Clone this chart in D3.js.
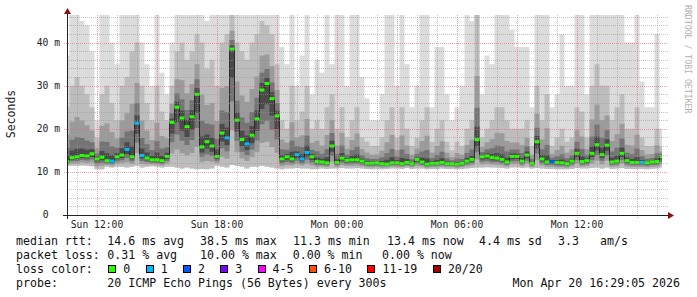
<!DOCTYPE html>
<html lang="en">
<head>
<meta charset="UTF-8">
<title>Smokeping latency</title>
<script src="https://cdn.jsdelivr.net/npm/d3@7"></script>
<style>
  body { margin: 0; background: #fff; }
  svg { display: block; font-family: "DejaVu Sans Mono", monospace; }
</style>
</head>
<body>
<svg id="chart" width="697" height="297"></svg>
<script>
// one reading every 15 minutes, starting Sun 10:30 (ms)
var median = [
  12.4, 13.3, 13.5, 13.8, 13.7, 14.2, 13.0, 13.4, 12.6, 12.5,
  13.5, 13.9, 15.2, 13.5, 21.3, 13.8, 13.2, 12.8, 12.8, 12.6,
  13.6, 21.5, 25.0, 22.5, 20.5, 22.8, 28.0, 15.8, 17.0, 16.0,
  13.6, 19.0, 17.9, 38.5, 22.0, 17.5, 16.5, 18.5, 22.3, 29.0,
  30.5, 27.0, 23.0, 13.0, 13.5, 13.0, 14.0, 13.0, 14.5, 13.5,
  12.4, 12.3, 12.1, 16.0, 12.2, 13.2, 12.7, 12.8, 12.8, 12.5,
  12.0, 12.0, 12.1, 11.9, 11.8, 12.1, 12.1, 11.9, 12.2, 11.9,
  12.9, 12.3, 11.8, 12.0, 12.0, 12.2, 11.9, 11.9, 11.8, 12.0,
  12.5, 12.9, 17.5, 13.5, 13.7, 13.3, 13.2, 12.9, 12.3, 13.6,
  13.6, 12.5, 13.9, 12.0, 17.0, 13.0, 12.3, 12.4, 12.2, 12.1,
  11.9, 12.5, 14.3, 12.4, 12.6, 14.3, 16.3, 14.0, 16.2, 12.3,
  12.5, 14.3, 12.6, 12.2, 12.2, 12.2, 12.1, 12.3, 12.4, 13.5
];
// lost pings out of 20
var lost = [
  0, 0, 0, 0, 0, 0, 0, 0, 0, 1,
  0, 0, 1, 0, 1, 1, 0, 0, 0, 0,
  0, 0, 0, 0, 0, 0, 0, 0, 0, 0,
  0, 0, 1, 0, 0, 0, 1, 0, 0, 0,
  0, 0, 0, 0, 0, 0, 1, 1, 1, 0,
  0, 0, 0, 0, 0, 0, 0, 0, 0, 0,
  0, 0, 0, 0, 0, 0, 0, 0, 0, 0,
  0, 0, 0, 0, 0, 0, 0, 0, 0, 0,
  0, 0, 0, 0, 0, 0, 0, 0, 0, 0,
  0, 0, 0, 0, 0, 0, 0, 2, 0, 0,
  0, 0, 0, 0, 0, 0, 0, 0, 0, 0,
  0, 0, 0, 0, 0, 1, 0, 0, 0, 0
];
// fastest ping
var smokeLow = [
  11.4, 11.4, 11.4, 11.5, 11.4, 11.3, 10.6, 10.6, 11.2, 11.0,
  11.2, 11.2, 11.0, 11.2, 11.4, 11.0, 11.2, 11.3, 11.2, 11.0,
  11.2, 11.2, 11.0, 10.8, 11.0, 10.8, 10.6, 10.7, 10.6, 10.8,
  11.4, 11.2, 11.0, 11.6, 11.4, 11.2, 10.8, 11.2, 11.2, 11.4,
  11.2, 11.0, 10.8, 10.6, 10.8, 10.8, 10.9, 10.8, 10.8, 10.6,
  10.7, 10.8, 10.7, 10.8, 10.8, 10.9, 10.8, 10.8, 10.9, 10.8,
  10.7, 10.6, 10.7, 10.6, 10.7, 10.8, 10.8, 10.7, 10.9, 10.7,
  10.8, 10.8, 10.6, 10.7, 10.7, 10.8, 10.7, 10.7, 10.6, 10.7,
  10.8, 10.9, 11.0, 11.0, 11.1, 11.0, 11.0, 10.9, 10.8, 11.0,
  11.1, 10.9, 11.0, 10.8, 10.9, 10.8, 10.7, 10.7, 10.6, 10.6,
  10.6, 10.7, 10.9, 10.8, 10.8, 10.9, 11.0, 10.8, 11.0, 10.7,
  10.8, 10.9, 10.7, 10.7, 10.7, 10.7, 10.6, 10.7, 10.8, 11.0
];
// upper edge of the dense part of the smoke
var smokeMid = [
  25, 30, 32, 30, 28, 25, 18, 28, 30, 26,
  22, 30, 32, 38, 40, 30, 26, 22, 30, 24,
  22, 30, 38, 40, 36, 38, 42, 40, 34, 36,
  30, 40, 42, 47, 40, 38, 36, 40, 42, 45,
  44, 42, 35, 22, 20, 30, 22, 24, 30, 20,
  22, 20, 25, 28, 20, 25, 18, 22, 25, 18,
  17, 16, 16, 18, 22, 25, 18, 25, 20, 16,
  18, 22, 25, 17, 20, 22, 17, 15, 17, 16,
  20, 22, 47, 18, 20, 22, 25, 25, 22, 20,
  20, 20, 22, 16, 30, 22, 28, 16, 18, 20,
  17, 18, 25, 24, 18, 30, 35, 30, 30, 22,
  25, 28, 20, 20, 25, 18, 16, 16, 20, 16
];
// slowest ping
var smokeHigh = [
  37, 47, 47, 45, 44, 38, 22, 47, 47, 40,
  35, 47, 47, 47, 47, 40, 35, 30, 47, 33,
  28, 40, 47, 47, 47, 47, 47, 47, 45, 47,
  47, 47, 47, 47, 47, 47, 47, 47, 47, 47,
  47, 47, 47, 39, 35, 47, 30, 37, 47, 28,
  36, 33, 47, 35, 47, 47, 30, 47, 47, 32,
  27, 22, 22, 28, 47, 47, 30, 47, 35, 25,
  30, 47, 47, 25, 39, 39, 28, 22, 25, 30,
  47, 45, 47, 28, 37, 35, 47, 47, 47, 43,
  39, 39, 39, 25, 47, 47, 47, 25, 28, 42,
  30, 30, 47, 47, 28, 47, 47, 47, 47, 47,
  47, 47, 40, 40, 47, 31, 25, 25, 42, 20
];

var yTicks = [0, 10, 20, 30, 40];
var lossLabels = ["0", "1", "2", "3", "4-5", "6-10", "11-19", "20/20"];
var lossColors = ["#26ff00", "#00b8ff", "#0059ff", "#7e00ff", "#ff00ff", "#ff5500", "#ff0000", "#a10000"];
var rttStats = ["14.6 ms avg", "38.5 ms max", "11.3 ms min", "13.4 ms now", "4.4 ms sd", "3.3", "am/s"];
var lossStats = ["0.31 % avg", "10.00 % max", "0.00 % min", "0.00 % now"];
var probeText = "20 ICMP Echo Pings (56 Bytes) every 300s";
var stamp = "Mon Apr 20 16:29:05 2026";

var start = new Date(2026, 3, 19, 10, 30),
    end = new Date(2026, 3, 20, 16, 30);

var data = median.map(function(m, i) {
  return {
    t: d3.timeMinute.offset(start, 15 * i),
    med: m, loss: lost[i],
    lo: smokeLow[i], mid: smokeMid[i], hi: smokeHigh[i]
  };
});

var plotL = 67, plotR = 667, plotT = 15, plotB = 215;

var x = d3.scaleTime().domain([start, end]).range([plotL, plotR]);
var y = d3.scaleLinear().domain([0, 46.4]).range([plotB, plotT]);

var svg = d3.select("#chart");

svg.append("clipPath").attr("id", "plot")
  .append("rect").attr("x", plotL).attr("y", plotT)
  .attr("width", plotR - plotL).attr("height", plotB - plotT);

var g = svg.append("g").attr("clip-path", "url(#plot)");

// smoke, from light outer band to dark inner band
function band(lower, upper, color) {
  var area = d3.area()
    .curve(d3.curveStep)
    .x(function(d) { return x(d.t); })
    .y0(function(d) { return y(lower(d)); })
    .y1(function(d) { return y(upper(d)); });
  g.append("path").datum(data).attr("d", area).attr("fill", color);
}
band(function(d) { return d.lo; }, function(d) { return d.hi; }, "#dcdcdc");
band(function(d) { return d.lo; }, function(d) { return d.mid; }, "#bdbdbd");
band(function(d) { return d.lo + (d.med - d.lo) * 0.3; }, function(d) { return d.med + (d.mid - d.med) * 0.5; }, "#9b9b9b");
band(function(d) { return d.lo + (d.med - d.lo) * 0.55; }, function(d) { return d.med + (d.mid - d.med) * 0.25; }, "#747474");
band(function(d) { return d.lo + (d.med - d.lo) * 0.75; }, function(d) { return d.med + (d.mid - d.med) * 0.1; }, "#4a4a4a");

// thin dark step joining the median marks
g.append("path").datum(data)
  .attr("d", d3.line().curve(d3.curveStep).x(function(d) { return x(d.t); }).y(function(d) { return y(d.med); }))
  .attr("fill", "none").attr("stroke", "#2a2a2a").attr("stroke-width", 1);

function lossColor(n) {
  if (n <= 3) return lossColors[n];
  if (n <= 5) return lossColors[4];
  if (n <= 10) return lossColors[5];
  if (n <= 19) return lossColors[6];
  return lossColors[7];
}

var step = x(data[1].t) - x(data[0].t);
g.selectAll(".med").data(data).enter().append("rect")
  .attr("class", "med")
  .attr("x", function(d, i) { return i == 0 ? x(d.t) : x(d.t) - step / 2; })
  .attr("width", function(d, i) { return (i == 0 || i == data.length - 1) ? step / 2 : step; })
  .attr("y", function(d) { return y(d.med) - 1.5; })
  .attr("height", 3)
  .attr("fill", function(d) { return lossColor(d.loss); });

// grid on top of the smoke
var grid = svg.append("g").attr("shape-rendering", "crispEdges");
var minorGrid = "rgba(150,150,150,0.55)", majorGrid = "rgba(230,100,100,0.6)";

d3.range(2, 47, 2).filter(function(v) { return v % 10; }).forEach(function(v) {
  grid.append("line").attr("x1", plotL).attr("x2", plotR + 1)
    .attr("y1", Math.round(y(v)) + 0.5).attr("y2", Math.round(y(v)) + 0.5)
    .attr("stroke", minorGrid).attr("stroke-dasharray", "1,1");
});
x.ticks(d3.timeHour.every(1)).filter(function(t) { return t.getHours() % 3; }).forEach(function(t) {
  var xx = Math.round(x(t)) + 0.5;
  grid.append("line").attr("x1", xx).attr("x2", xx).attr("y1", plotT).attr("y2", plotB + 2)
    .attr("stroke", minorGrid).attr("stroke-dasharray", "1,1");
});
yTicks.slice(1).forEach(function(v) {
  grid.append("line").attr("x1", plotL - 3).attr("x2", plotR + 1)
    .attr("y1", Math.round(y(v)) + 0.5).attr("y2", Math.round(y(v)) + 0.5)
    .attr("stroke", majorGrid).attr("stroke-dasharray", "1,1");
});
x.ticks(d3.timeHour.every(3)).forEach(function(t) {
  var xx = Math.round(x(t)) + 0.5;
  grid.append("line").attr("x1", xx).attr("x2", xx).attr("y1", plotT).attr("y2", plotB + 3)
    .attr("stroke", majorGrid).attr("stroke-dasharray", "1,1");
});

// axes with arrows
var axis = svg.append("g").attr("shape-rendering", "crispEdges");
axis.append("line").attr("x1", plotL - 4).attr("x2", plotR + 4)
  .attr("y1", plotB + 0.5).attr("y2", plotB + 0.5).attr("stroke", "#222");
axis.append("line").attr("x1", plotL + 0.5).attr("x2", plotL + 0.5)
  .attr("y1", plotB + 4).attr("y2", plotT - 4).attr("stroke", "#222");
svg.append("path").attr("d", "M" + (plotR + 1) + "," + (plotB - 3) + "L" + (plotR + 7) + "," + (plotB + 0.5) + "L" + (plotR + 1) + "," + (plotB + 4) + "Z")
  .attr("fill", "#8b1010");
svg.append("path").attr("d", "M" + (plotL - 3) + "," + (plotT - 1) + "L" + (plotL + 0.5) + "," + (plotT - 7) + "L" + (plotL + 4) + "," + (plotT - 1) + "Z")
  .attr("fill", "#8b1010");

// tick labels
svg.selectAll(".ylab").data(yTicks).enter().append("text")
  .attr("x", function(v) { return v == 0 ? 48.5 : 60; })
  .attr("y", function(v) { return y(v); })
  .attr("dy", "0.36em")
  .attr("text-anchor", "end")
  .attr("font-size", "9.7px")
  .attr("fill", "#222")
  .text(function(v) { return v == 0 ? "0" : v + " m"; });

svg.selectAll(".xlab").data(x.ticks(d3.timeHour.every(6))).enter().append("text")
  .attr("x", function(t) { return x(t); })
  .attr("y", 228)
  .attr("text-anchor", "middle")
  .attr("font-size", "9.7px")
  .attr("fill", "#222")
  .text(d3.timeFormat("%a %H:%M"));

svg.append("text")
  .attr("transform", "translate(15,114)rotate(-90)")
  .attr("text-anchor", "middle")
  .attr("font-size", "11.5px")
  .attr("fill", "#222")
  .text("Seconds");

svg.append("text")
  .attr("transform", "translate(685,5)rotate(90)")
  .attr("font-size", "8.2px")
  .attr("fill", "#b0b0b0")
  .text("RRDTOOL / TOBI OETIKER");

// legend
var legend = svg.append("g").attr("font-size", "11.6px").attr("fill", "#111");
var rowY = [245, 259, 273, 287];
var valueX = 107.3;

legend.append("text").attr("x", 16).attr("y", rowY[0]).text("median rtt:");
var rttX = [valueX, 200, 293, 387, 479, 558, 600];
rttStats.forEach(function(s, i) {
  legend.append("text").attr("x", rttX[i]).attr("y", rowY[0]).text(s);
});

legend.append("text").attr("x", 16).attr("y", rowY[1]).text("packet loss:");
var lossX = [valueX, 200, 292.7, 382];
lossStats.forEach(function(s, i) {
  legend.append("text").attr("x", lossX[i]).attr("y", rowY[1]).text(s);
});

legend.append("text").attr("x", 16).attr("y", rowY[2]).text("loss color:");
var bx = 108.3;
lossLabels.forEach(function(lab, i) {
  legend.append("rect").attr("x", Math.round(bx) + 0.5).attr("y", rowY[2] - 7.5)
    .attr("width", 7).attr("height", 7)
    .attr("fill", lossColors[i]).attr("stroke", "#000").attr("stroke-width", 1)
    .attr("shape-rendering", "crispEdges");
  legend.append("text").attr("x", bx + 15).attr("y", rowY[2]).text(lab);
  bx += 15 + lab.length * 7.03 + 15.3;
});

legend.append("text").attr("x", 16).attr("y", rowY[3]).text("probe:");
legend.append("text").attr("x", valueX).attr("y", rowY[3]).text(probeText);
legend.append("text").attr("x", 680).attr("y", rowY[3]).attr("text-anchor", "end").text(stamp);
</script>
</body>
</html>
